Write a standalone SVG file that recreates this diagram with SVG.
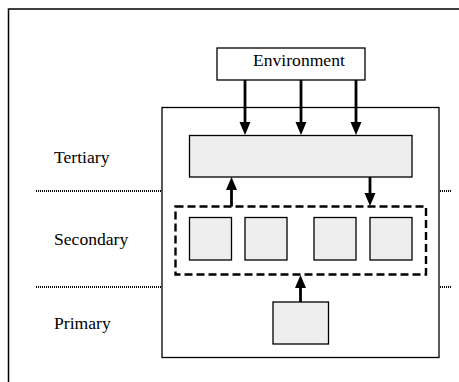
<svg xmlns="http://www.w3.org/2000/svg" width="459" height="382" viewBox="0 0 459 382">
<style>
.box{fill:#fff;stroke:#000;stroke-width:1.3}
.g{fill:#eeeeee;stroke:#000;stroke-width:1.3}
.shaft{stroke:#000;stroke-width:2.8;fill:none}
.head{fill:#000;stroke:none}
.dot{stroke:#000;stroke-width:2;stroke-dasharray:1 1;fill:none}
</style>
<defs>
<path id="dn" class="head" d="M-5.5,-13 L5.5,-13 L0,0 Z"/>
<path id="up" class="head" d="M-5.5,13 L5.5,13 L0,0 Z"/>
</defs>
<rect x="8.5" y="9" width="470" height="400" fill="none" stroke="#000" stroke-width="1.5"/>
<g id="levels" font-family="Liberation Serif, Times New Roman, serif" font-size="17.6" fill="#000">
<path class="dot" d="M36,191 H452"/>
<path class="dot" d="M36,287 H452"/>
<text x="54" y="163">Tertiary</text>
<text x="54" y="245">Secondary</text>
<text x="54" y="329">Primary</text>
</g>
<g id="system"><rect class="box" x="162" y="107.5" width="277" height="250"/></g>
<g id="environment"><rect class="box" x="217" y="48" width="148" height="32"/>
<text x="253" y="66" font-family="Liberation Serif, Times New Roman, serif" font-size="17.6" fill="#000">Environment</text></g>
<g id="tertiary"><rect class="g" x="189.5" y="135.5" width="222.5" height="41.5"/></g>
<g id="secondary-group"><rect x="175.5" y="206.5" width="250.5" height="68" fill="none" stroke="#000" stroke-width="2.4" stroke-dasharray="8 4"/></g>
<g id="s1"><rect class="g" x="189.5" y="217.5" width="42" height="42.5"/></g>
<g id="s2"><rect class="g" x="245" y="217.5" width="42" height="42.5"/></g>
<g id="s3"><rect class="g" x="314" y="217.5" width="42" height="42.5"/></g>
<g id="s4"><rect class="g" x="370" y="217.5" width="42" height="42.5"/></g>
<g id="primary"><rect class="g" x="273" y="302" width="55.5" height="42"/></g>
<g id="connectors">
<path class="shaft" d="M245,80 V123"/><use href="#dn" x="245" y="135"/>
<path class="shaft" d="M301,80 V123"/><use href="#dn" x="301" y="135"/>
<path class="shaft" d="M356,80 V123"/><use href="#dn" x="356" y="135"/>
<path class="shaft" d="M231.5,206.5 V189"/><use href="#up" x="231.5" y="177"/>
<path class="shaft" d="M370,177 V194"/><use href="#dn" x="370" y="206"/>
<path class="shaft" d="M300.5,302 V287"/><use href="#up" x="300.5" y="275"/>
</g>
</svg>
